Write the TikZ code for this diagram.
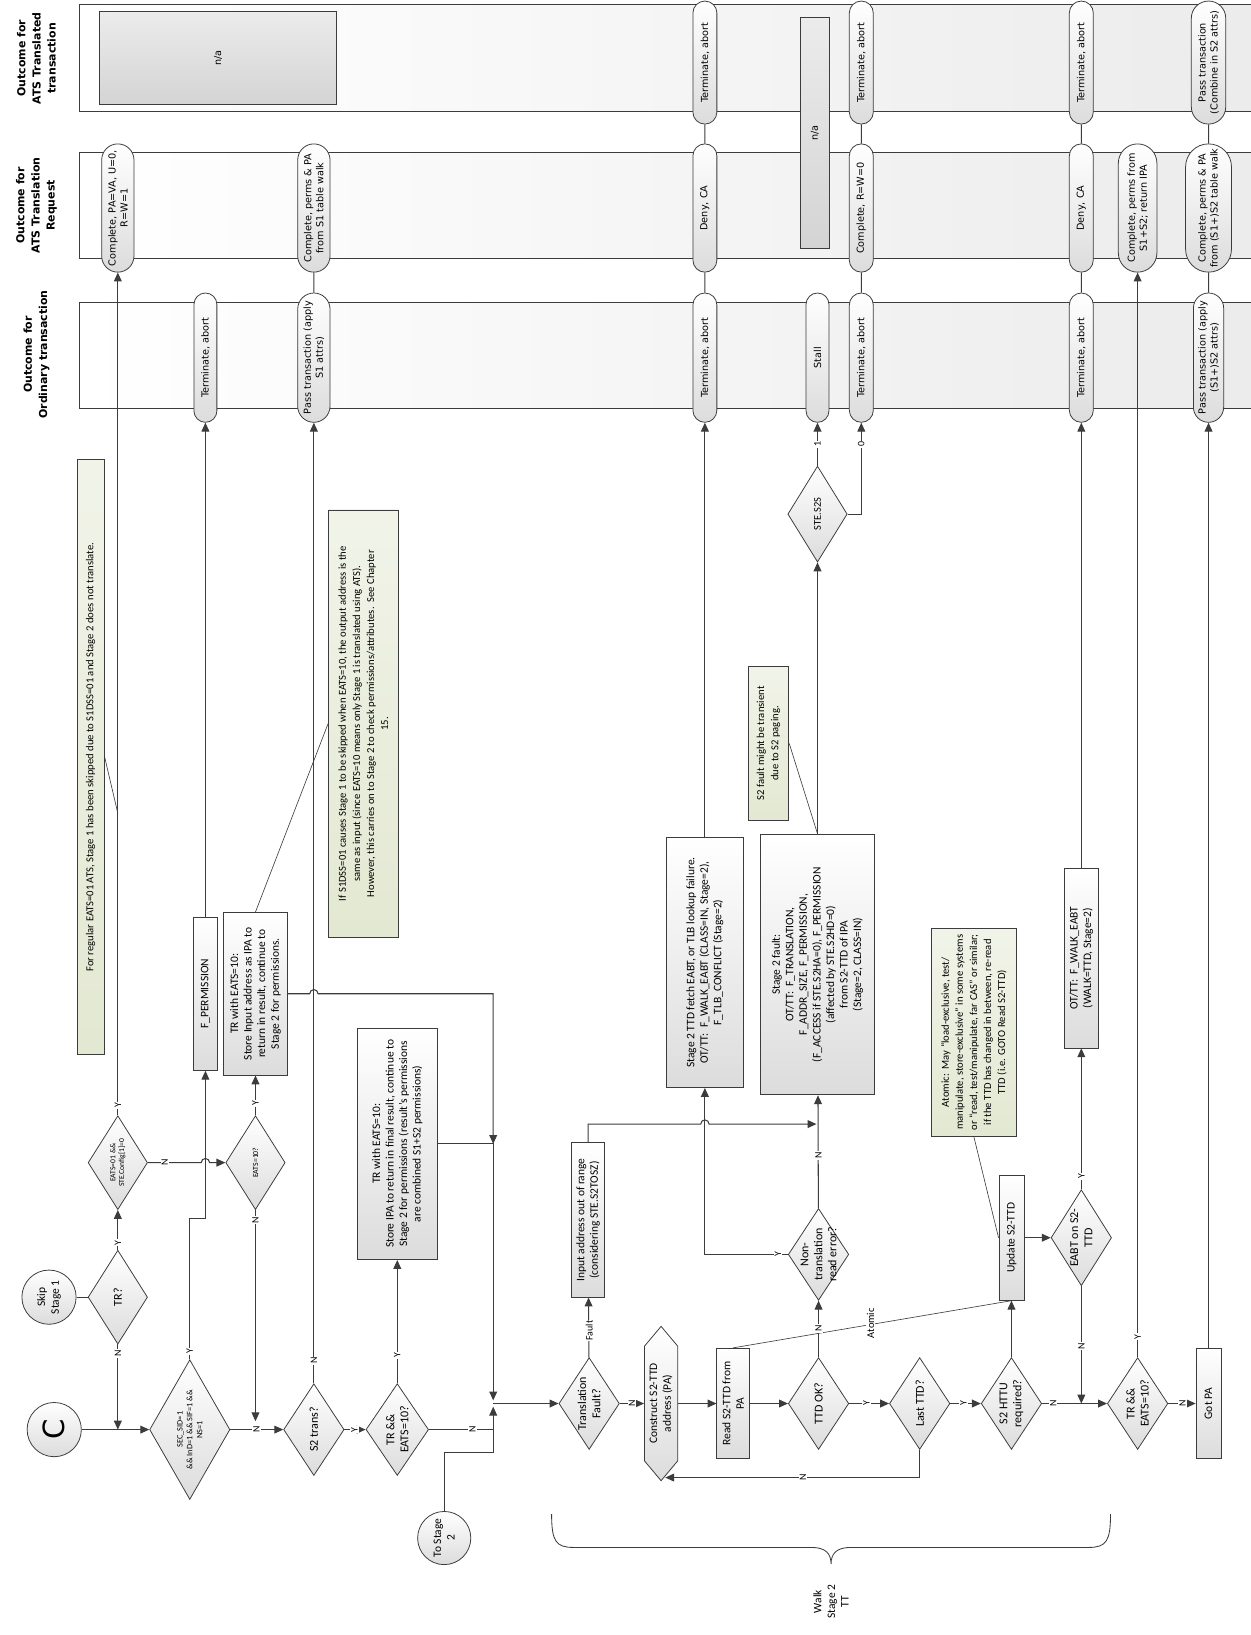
\documentclass[tikz,border=0pt]{standalone}
\usepackage{fontspec}
\setmainfont{Carlito}
\newfontfamily\pillf{DejaVu Sans}
\usetikzlibrary{shapes.geometric,shapes.misc,shapes.symbols,arrows.meta,shadings}
\definecolor{linec}{HTML}{3C3C3C}
\definecolor{notec}{HTML}{E3E8D2}
\definecolor{boxg}{HTML}{DCDCDC}
\definecolor{laneg}{HTML}{EBEBEB}
\definecolor{nagray}{HTML}{D4D4D4}
\tikzset{
  line/.style={draw=linec,line width=1pt},
  arr/.style={line,-{Triangle[length=8.5pt,width=7.5pt]}},
  callout/.style={draw=linec,line width=0.6pt},
  wh/.style 2 args={minimum height=#1,minimum width=#2},
  shp/.style={draw=linec,line width=0.75pt,rotate=90,inner sep=0pt,top color=white,bottom color=boxg},
  boxs/.style={shp,rectangle},
  dia/.style={shp,diamond},
  pill/.style={shp,rounded rectangle},
  notes/.style={draw=linec,line width=0.75pt,rotate=90,inner sep=0pt,rectangle,top color=notec!50!white,bottom color=notec},
  txt/.style={rotate=90,align=center,inner sep=0pt,font=\fontsize{11}{13}\selectfont},
  dtxt/.style={txt,font=\fontsize{11.5}{13.5}\selectfont},
  ntxt/.style={txt,font=\fontsize{10.2}{13.5}\selectfont},
  ptxt/.style={txt,font=\pillf\fontsize{9.3}{11.5}\selectfont},
  htxt/.style={txt,font=\pillf\bfseries\fontsize{10.5}{14.5}\selectfont},
  lab/.style={rotate=90,fill=white,inner sep=1pt,font=\fontsize{9.5}{10}\selectfont},
}
\newcommand\mkbox[5]{\node[boxs, wh={#3}{#4}] (#1) at #2 {}; \node[txt] (#1-t) at (#1) {#5};}
\newcommand\mkdia[6]{\node[dia, wh={#3}{#4}] (#1) at #2 {}; \node[dtxt,#6] (#1-t) at (#1) {#5};}
\newcommand\mknote[5]{\node[notes, wh={#3}{#4}] (#1) at #2 {}; \node[ntxt] (#1-t) at (#1) {#5};}
\newcommand\mkpill[5]{\node[pill, wh={#3}{#4}] (#1) at #2 {}; \node[ptxt] (#1-t) at (#1) {#5};}
\begin{document}
\begin{tikzpicture}[x=1pt,y=-1pt]
\useasboundingbox (0,0) rectangle (1199,1568);
\fill[white] (0,0) rectangle (1199,1568);

% ---------------- lanes
\fill[left color=white,right color=laneg] (76,4) rectangle (1230,107);
\draw[draw=linec,line width=0.75pt] (1230,4) -- (76,4) -- (76,107) -- (1230,107);
\fill[left color=white,right color=laneg] (76,146) rectangle (1230,248);
\draw[draw=linec,line width=0.75pt] (1230,146) -- (76,146) -- (76,248) -- (1230,248);
\fill[left color=white,right color=laneg] (76,290) rectangle (1230,392);
\draw[draw=linec,line width=0.75pt] (1230,290) -- (76,290) -- (76,392) -- (1230,392);

\node[htxt] (hA) at (35,56) {Outcome for\\ATS Translated\\transaction};
\node[htxt] (hB) at (35,197) {Outcome for\\ATS Translation\\Request};
\node[htxt] (hC) at (35,340) {Outcome for\\Ordinary transaction};

\node[boxs,top color=nagray!45!white,bottom color=nagray,wh={228}{89}] (naA) at (209,55.5) {};
\node[ptxt] (naA-t) at (naA) {n/a};
\node[boxs,top color=nagray!45!white,bottom color=nagray,wh={27}{221}] (naB) at (781.5,127.5) {};
\node[ptxt] (naB-t) at (naB) {n/a};

% ---------------- pills
\mkpill{pB1}{(113,199.5)}{31}{123}{Complete, PA=VA, U=0,\\R=W=1}
\mkpill{pC2}{(197,343)}{22}{124}{Terminate, abort}
\mkpill{pB3}{(301,199.5)}{31}{123}{Complete, perms \& PA\\from S1 table walk}
\mkpill{pC3}{(301,343)}{31}{124}{Pass transaction (apply\\S1 attrs)}
\mkpill{pA4}{(676,60)}{23}{118}{Terminate, abort}
\mkpill{pB4}{(676,199.5)}{23}{123}{Deny, CA}
\mkpill{pC4}{(676,343)}{23}{124}{Terminate, abort}
\mkpill{pC5}{(784,343)}{22}{124}{Stall}
\mkpill{pA6}{(826,60)}{23}{118}{Terminate, abort}
\mkpill{pB6}{(826,199.5)}{23}{123}{Complete, R=W=0}
\mkpill{pC6}{(826,343)}{23}{124}{Terminate, abort}
\mkpill{pA7}{(1037,60)}{23}{118}{Terminate, abort}
\mkpill{pB7}{(1037,199.5)}{23}{123}{Deny, CA}
\mkpill{pC7}{(1037,343)}{23}{124}{Terminate, abort}
\mkpill{pB8}{(1091,199.5)}{37}{123}{Complete, perms from\\S1+S2; return IPA}
\mkpill{pA9}{(1159,60)}{33}{118}{Pass transaction\\(Combine in S2 attrs)}
\mkpill{pB9}{(1159,199.5)}{44}{123}{Complete, perms \& PA\\from (S1+)S2 table walk}
\mkpill{pC9}{(1159,343)}{29}{124}{Pass transaction (apply\\(S1+)S2 attrs)}

% ---------------- notes
\mknote{n1}{(87,726)}{26}{570}{For regular EATS=01 ATS, Stage 1 has been skipped due to S1DSS=01 and Stage 2 does not translate.}
\mknote{n2}{(348.5,694)}{67}{410}{If S1DSS=01 causes Stage 1 to be skipped when EATS=10, the output address is the\\same as input (since EATS=10 means only Stage 1 is translated using ATS).\\However, this carries on to Stage 2 to check permissions/attributes.\ \ See Chapter\\15.}
\mknote{n3}{(737,713)}{39}{148}{S2 fault might be transient\\due to S2 paging.}
\mknote{n4}{(934,990)}{82}{200}{Atomic:\ \ May “load-exclusive, test/\\manipulate, store-exclusive” in some systems\\or “read, test/manipulate, far CAS” or similar;\\if the TTD has changed in between, re-read\\TTD (i.e. GOTO Read S2-TTD)}

% ---------------- first part
\node[shp,circle,minimum size=52] (C) at (52,1371) {};
\node[txt,font=\pillf\fontsize{28}{28}\selectfont] (C-t) at (C) {C};
\node[shp,circle,minimum size=52] (skip) at (47,1244) {};
\node[txt] (skip-t) at (skip) {Skip\\Stage 1};
\node[shp,circle,minimum size=51] (ts2) at (426,1475) {};
\node[txt] (ts2-t) at (ts2) {To Stage\\2};

\mkdia{trq}{(113,1244)}{57}{90}{TR?}{}
\mkdia{eats01}{(113,1115)}{57}{90}{EATS=01 \&\&\\STE.Config[1]=0}{font=\fontsize{7.3}{8.5}\selectfont}
\mkdia{eats10}{(245,1115)}{57}{90}{EATS=10?}{font=\fontsize{7.5}{9}\selectfont}
\mkdia{sec}{(182,1371)}{77}{134}{SEC\_SID=1\\\&\& InD=1 \&\& SIF=1 \&\&\\NS=1}{font=\fontsize{8}{9.5}\selectfont}
\mkdia{s2t}{(301,1371)}{58}{88}{S2 trans?}{}
\mkdia{tre1}{(381,1371)}{60}{88}{TR \&\&\\EATS=10?}{}

\mkbox{fperm}{(197,953)}{23}{147}{F\_PERMISSION}
\mkbox{trb1}{(245,953)}{62}{156}{TR with EATS=10:\\Store Input address as IPA to\\return in result, continue to\\Stage 2 for permissions.}
\mkbox{trb2}{(381,1097)}{76}{222}{TR with EATS=10:\\Store IPA to return in final result, continue to\\Stage 2 for permissions (result’s permissions\\are combined S1+S2 permissions)}

% ---------------- second part
\mkdia{tfault}{(565,1346)}{58}{88}{Translation\\Fault?}{}
\mkbox{inbox}{(564,1170)}{32}{148}{Input address out of range\\(considering STE.S2TOSZ)}
\node[shp,signal,signal to=east and west,signal pointer angle=80,wh={32}{148}] (cons) at (634,1346) {};
\node[txt] (cons-t) at (cons) {Construct S2-TTD\\address (PA)};
\mkbox{readb}{(703,1346)}{31}{106}{Read S2-TTD from\\PA}
\mkdia{ttdok}{(785,1346)}{58}{88}{TTD OK?}{}
\mkdia{nontr}{(785,1203)}{58}{88}{Non-\\translation\\read error?}{}
\mkdia{last}{(882,1346)}{58}{88}{Last TTD?}{}
\mkdia{httu}{(970,1346)}{58}{88}{S2 HTTU\\required?}{}
\mkbox{upd}{(970,1187)}{24}{120}{Update S2-TTD}
\mkdia{eabt}{(1037,1187)}{58}{92}{EABT on S2-\\TTD}{}
\mkdia{tre2}{(1091,1346)}{58}{88}{TR \&\&\\EATS=10?}{}
\mkbox{gotpa}{(1159,1346)}{24}{106}{Got PA}
\mkbox{fwalk}{(1037,919)}{33}{172}{OT/TT:\ \ F\_WALK\_EABT\\(WALK=TTD, Stage=2)}
\mkbox{s2fetch}{(676,923)}{74}{240}{Stage 2 TTD fetch EABT, or TLB lookup failure.\\OT/TT:\ \ F\_WALK\_EABT (CLASS=IN, Stage=2),\\F\_TLB\_CONFLICT (Stage=2)}
\mkbox{s2fault}{(784,925)}{109}{250}{Stage 2 fault:\\OT/TT:\ \ F\_TRANSLATION,\\F\_ADDR\_SIZE, F\_PERMISSION,\\(F\_ACCESS if STE.S2HA=0), F\_PERMISSION\\(affected by STE.S2HD=0)\\from S2-TTD of IPA\\(Stage=2, CLASS=IN)}
\mkdia{s2s}{(784,493)}{57}{92}{STE.S2S}{font=\fontsize{10}{12}\selectfont}

\node[txt] (walk) at (797,1536) {Walk\\Stage 2\\TT};

% ---------------- coordinates
\coordinate (m1a) at (113,1371);
\coordinate (m1b) at (245,1363);
\coordinate (m1c) at (473,1371);
\coordinate (mj1) at (473,1097);
\coordinate (J) at (473,1346);
\coordinate (Jt) at (473,1343);
\coordinate (Jb) at (473,1349);
\coordinate (mj2) at (783,1078);
\coordinate (cbot) at (638,1417);
\coordinate (m2e) at (1037,1346);
\coordinate (c1) at (113,780);

% ---------------- connectors between lanes
\draw[line] (pC3) -- (pB3);
\draw[line] (pA4) -- (pB4); \draw[line] (pB4) -- (pC4);
\draw[line] (pA6) -- (pB6); \draw[line] (pB6) -- (pC6);
\draw[line] (pA7) -- (pB7); \draw[line] (pB7) -- (pC7);
\draw[line] (pA9) -- (pB9); \draw[line] (pB9) -- (pC9);

% ---------------- callouts
\draw[callout] (n1.south) -- (c1);
\draw[callout] (n2.north) -- (trb1.east);
\draw[callout] (n3.south) -- (s2fault.east);
\draw[callout] (n4.west) -- (upd.north);
\draw[callout] (readb.east) -- (upd.west);

% ---------------- flow, first part
\draw[line] (skip) -- (trq);
\draw[arr] (C) -- (sec);
\draw[arr] (trq) -- (m1a);
\draw[arr] (trq) -- (eats01);
\draw[arr] (eats01) -- (pB1);
\draw[arr] (eats01) -- (193,1115) arc[start angle=180,end angle=360,radius=4] -- (eats10);
\draw[arr] (eats10) -- (trb1);
\draw[arr] (eats10) -- (m1b);
\draw[arr] (sec) -- (182,1169) -| (fperm);
\draw[arr] (fperm) -- (pC2);
\draw[arr] (sec) -- (s2t);
\draw[arr] (s2t) -- (pC3);
\draw[arr] (s2t) -- (tre1);
\draw[arr] (tre1) -- (trb2);
\draw[line] (tre1) -- (m1c);
\draw[arr] (trb1) -- (297,953) arc[start angle=180,end angle=360,radius=4] -- (473,953) -- (mj1);
\draw[arr] (trb2) -- (mj1) -- (Jt);
\draw[arr] (ts2) -- (426,1393) -- (473,1393) -- (Jb);
\draw[arr] (J) -- (tfault);

% ---------------- flow, second part
\draw[arr] (tfault) -- (inbox);
\draw[arr] (tfault) -- (cons);
\draw[arr] (inbox) -- (564,1078) -- (672,1078) arc[start angle=180,end angle=360,radius=4] -- (mj2);
\draw[arr] (cons) -- (readb);
\draw[arr] (readb) -- (ttdok);
\draw[arr] (ttdok) -- (nontr);
\draw[arr] (nontr) -- (s2fault);
\draw[arr] (nontr) -| (s2fetch);
\draw[arr] (s2fetch) -- (pC4);
\draw[arr] (s2fault) -- (s2s);
\draw[arr] (s2s) -- (pC5);
\draw[arr] (s2s) -| (pC6);
\draw[arr] (ttdok) -- (last);
\draw[arr] (last) -- (882,1417) -- (cbot);
\draw[arr] (last) -- (httu);
\draw[arr] (httu) -- (upd);
\draw[arr] (upd) -- (eabt);
\draw[arr] (eabt) -- (fwalk);
\draw[arr] (fwalk) -- (pC7);
\draw[arr] (eabt) -- (m2e);
\draw[arr] (httu) -- (tre2);
\draw[arr] (tre2) -- (pB8);
\draw[arr] (tre2) -- (gotpa);
\draw[arr] (gotpa) -- (pC9);

% brace
\draw[line,line width=0.8pt] (529,1452) .. controls (529,1478) and (533,1484) .. (550,1484) -- (778,1484) .. controls (792,1484) and (797,1490) .. (797,1500) .. controls (797,1490) and (802,1484) .. (816,1484) -- (1044,1484) .. controls (1061,1484) and (1065,1478) .. (1065,1452);

% ---------------- labels
\node[lab] (l1) at (113,1192) {Y};
\node[lab] (l2) at (113,1298) {N};
\node[lab] (l3) at (113,1060) {Y};
\node[lab] (l4) at (158,1115) {N};
\node[lab] (l5) at (245,1058) {Y};
\node[lab] (l6) at (245,1170) {N};
\node[lab] (l7) at (182,1296) {Y};
\node[lab] (l8) at (246,1371) {N};
\node[lab] (l9) at (301,1305) {N};
\node[lab] (l10) at (340,1371) {Y};
\node[lab] (l11) at (381,1300) {Y};
\node[lab] (l12) at (453,1371) {N};
\node[lab] (l13) at (565,1276) {Fault};
\node[lab] (l14) at (606,1346) {N};
\node[lab] (l15) at (785,1274) {N};
\node[lab] (l16) at (785,1108) {N};
\node[lab] (l17) at (746,1203) {Y};
\node[lab] (l18) at (770,1417) {N};
\node[lab] (l19) at (831,1346) {Y};
\node[lab] (l20) at (924,1346) {Y};
\node[lab] (l21) at (1010,1346) {N};
\node[lab] (l22) at (1037,1128) {Y};
\node[lab] (l23) at (1037,1291) {N};
\node[lab] (l24) at (1091,1282) {Y};
\node[lab] (l25) at (1134,1346) {N};
\node[lab] (l26) at (784,426) {1};
\node[lab] (l27) at (826,426) {0};
\node[lab,font=\fontsize{10}{10}\selectfont] (l28) at (835,1269) {Atomic};
\end{tikzpicture}
\end{document}
